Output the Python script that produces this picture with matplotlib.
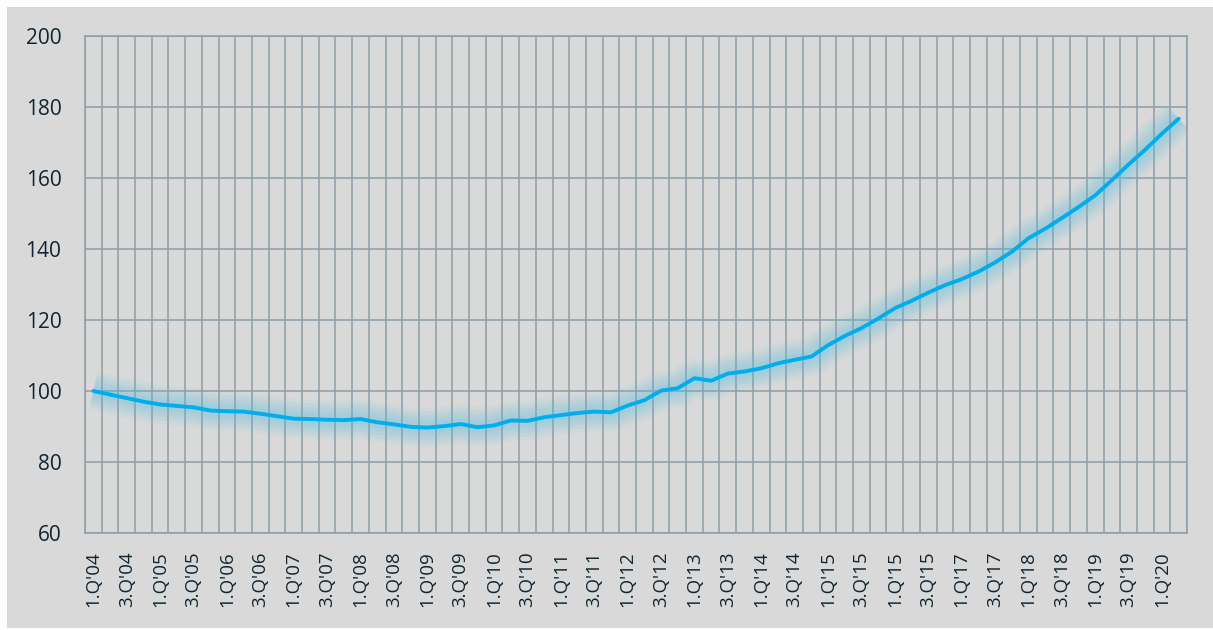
import matplotlib
matplotlib.use("Agg")
import matplotlib.pyplot as plt
import matplotlib.patches as patches
import numpy as np

plt.rcParams['font.family'] = ['Open Sans', 'DejaVu Sans']

# quarterly index, 1.Q'04 = 100 (66 quarters: 1.Q'04 .. 2.Q'20)
values = [100.0, 99.0, 98.0, 97.0, 96.2, 95.8, 95.4, 94.5, 94.3, 94.2,
          93.6, 92.9, 92.2, 92.1, 91.9, 91.8, 92.1, 91.2, 90.6, 89.9,
          89.7, 90.1, 90.7, 89.8, 90.3, 91.7, 91.6, 92.6, 93.2, 93.8,
          94.2, 94.0, 95.9, 97.4, 100.1, 100.8, 103.6, 102.9, 104.9, 105.5,
          106.4, 107.8, 108.8, 109.7, 112.9, 115.5, 117.7, 120.4, 123.3, 125.4,
          127.7, 129.8, 131.5, 133.6, 136.2, 139.2, 143.0, 145.7, 148.7, 151.8,
          155.1, 159.4, 163.8, 168.0, 172.5, 176.7]

# every second quarter is labelled (labels as printed in the source, incl. '15 twice)
tick_labels = ["1.Q'04", "3.Q'04", "1.Q'05", "3.Q'05", "1.Q'06", "3.Q'06",
               "1.Q'07", "3.Q'07", "1.Q'08", "3.Q'08", "1.Q'09", "3.Q'09",
               "1.Q'10", "3.Q'10", "1.Q'11", "3.Q'11", "1.Q'12", "3.Q'12",
               "1.Q'13", "3.Q'13", "1.Q'14", "3.Q'14", "1.Q'15", "3.Q'15",
               "1.Q'15", "3.Q'15", "1.Q'17", "3.Q'17", "1.Q'18", "3.Q'18",
               "1.Q'19", "3.Q'19", "1.Q'20"]
y_ticks = [60, 80, 100, 120, 140, 160, 180, 200]

bg = '#d9d9d9'
grid_c = '#8e9da7'
text_c = '#0f2532'
line_c = '#00aeef'

fig = plt.figure(figsize=(12.13, 6.30), dpi=100, facecolor='white')
fig.patches.append(patches.Rectangle((7 / 1213, 2 / 630), 1 - 7 / 1213, 621 / 630,
                                     transform=fig.transFigure, facecolor=bg,
                                     edgecolor='none', zorder=-10))

ax = fig.add_axes([85 / 1213, 97 / 630, 1102 / 1213, 497 / 630])
ax.set_facecolor(bg)

x = np.arange(len(values))

# soft glow behind the line
for w, a in [(28, 0.07), (23, 0.09), (18, 0.10), (13, 0.11), (8, 0.12)]:
    ax.plot(x, values, color='#58bfe0', lw=w, alpha=a, solid_capstyle='butt',
            solid_joinstyle='round', zorder=2)
ax.plot(x, values, color=line_c, lw=2.8, solid_capstyle='round',
        solid_joinstyle='round', zorder=3)

ax.set_xlim(-0.5, len(values) - 0.5)
ax.set_ylim(60, 200)

ax.set_xticks(x[::2][:len(tick_labels)])
ax.set_xticklabels(tick_labels, rotation=90, ha='center', va='top')
ax.set_xticks(np.arange(-0.5, len(values), 1), minor=True)
ax.set_yticks(y_ticks)

ax.grid(which='minor', axis='x', color=grid_c, lw=1.1, zorder=1)
ax.grid(which='major', axis='y', color=grid_c, lw=1.1, zorder=1)
ax.set_axisbelow(True)

ax.tick_params(which='both', length=0, colors=text_c)
ax.tick_params(axis='y', pad=17, labelsize=15)
ax.tick_params(axis='x', pad=13, labelsize=13.5)

for s in ax.spines.values():
    s.set_color(grid_c)
    s.set_linewidth(1.1)

fig.savefig('out.png', dpi=100, facecolor='white')
